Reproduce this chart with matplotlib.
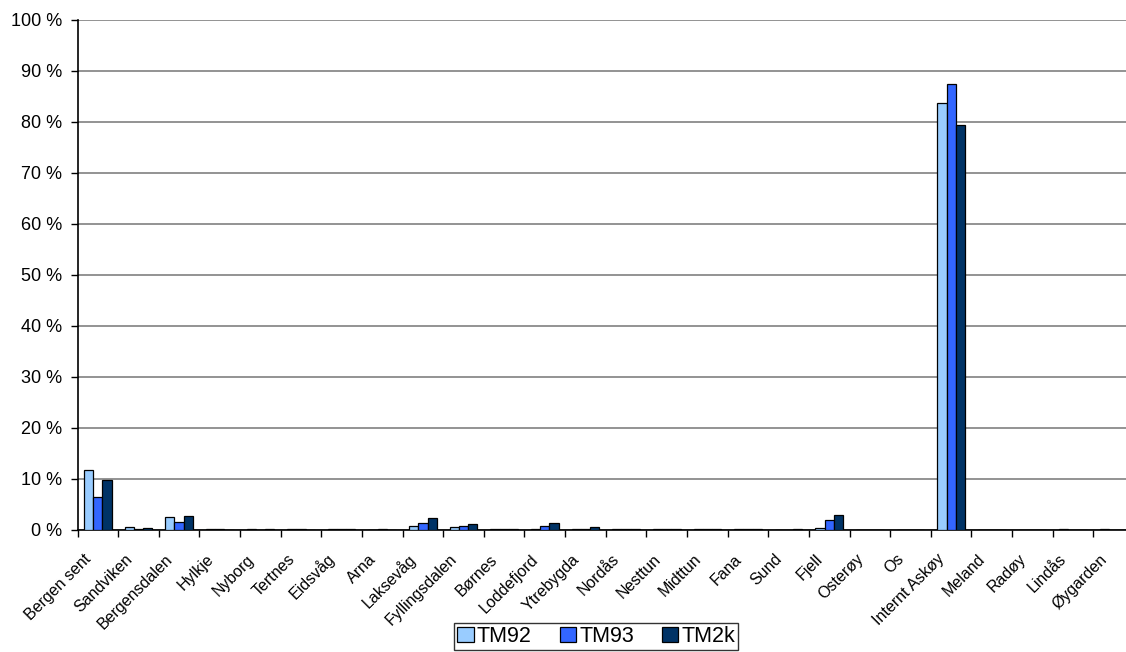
import numpy as np
import matplotlib.pyplot as plt
from matplotlib.ticker import FuncFormatter
from matplotlib.transforms import ScaledTranslation

plt.rcParams['font.family'] = ['Liberation Sans', 'DejaVu Sans']

# Andel turer per sone, i prosent
categories = ["Bergen sent", "Sandviken", "Bergensdalen", "Hylkje", "Nyborg", "Tertnes",
              "Eidsvåg", "Arna", "Laksevåg", "Fyllingsdalen", "Børnes", "Loddefjord",
              "Ytrebygda", "Nordås", "Nesttun", "Midttun", "Fana", "Sund", "Fjell",
              "Osterøy", "Os", "Internt Askøy", "Meland", "Radøy", "Lindås", "Øygarden"]
tm92 = [11.6, 0.5, 2.4, 0.05, 0.05, 0.05, 0.05, 0.0, 0.6, 0.5, 0.05, 0.1, 0.15,
        0.05, 0.05, 0.1, 0.05, 0.0, 0.2, 0.0, 0.0, 83.7, 0.0, 0.0, 0.05, 0.05]
tm93 = [6.3, 0.1, 1.4, 0.05, 0.0, 0.05, 0.05, 0.05, 1.3, 0.6, 0.05, 0.7, 0.15,
        0.1, 0.05, 0.05, 0.05, 0.0, 1.9, 0.0, 0.0, 87.5, 0.0, 0.0, 0.0, 0.0]
tm2k = [9.7, 0.2, 2.6, 0.0, 0.05, 0.0, 0.05, 0.0, 2.2, 1.1, 0.1, 1.3, 0.5,
        0.1, 0.1, 0.05, 0.05, 0.05, 2.8, 0.0, 0.0, 79.4, 0.0, 0.0, 0.0, 0.0]
series = [("TM92", tm92, "#99CCFF"), ("TM93", tm93, "#3366FF"), ("TM2k", tm2k, "#003366")]
yticks = list(range(0, 101, 10))

fig = plt.figure(figsize=(11.26, 6.52), dpi=100)
ax = fig.add_axes([77.5 / 1126, 1 - 529.5 / 652, (1134 - 77.5) / 1126, (529.5 - 20) / 652])

x = np.arange(len(categories))
width = 0.227
for i, (name, vals, color) in enumerate(series):
    ax.bar(x + (i - 1) * width, vals, width, color=color, edgecolor="black",
           linewidth=0.9, label=name, zorder=3)

ax.set_xlim(-0.5, len(categories) - 0.5)
ax.set_ylim(0, 100)
ax.set_yticks(yticks)
ax.yaxis.set_major_formatter(FuncFormatter(lambda v, _: f"{v:.0f} %"))
ax.yaxis.grid(True, color="#808080", linewidth=1.2, zorder=0)
ax.tick_params(axis="y", labelsize=13, length=5, width=1, pad=6)

# kategoriene har tick mellom seg, etikettene står midt under
ax.set_xticks(np.arange(len(categories) + 1) - 0.5)
ax.set_xticklabels([])
ax.set_xticks(x, minor=True)
ax.set_xticklabels(categories, minor=True, rotation=45, ha="right", va="baseline",
                   rotation_mode="anchor", fontsize=11.5)
ax.tick_params(axis="x", which="major", length=5, width=1)
ax.tick_params(axis="x", which="minor", length=0, pad=22)
# flytt etikettene litt mot venstre
shift = ScaledTranslation(-4 / 72, 0, fig.dpi_scale_trans)
for lbl in ax.get_xticklabels(minor=True):
    lbl.set_transform(lbl.get_transform() + shift)

for side in ("top", "right"):
    ax.spines[side].set_visible(False)
for side in ("left", "bottom"):
    ax.spines[side].set_linewidth(1.2)

leg = fig.legend(loc="lower center", bbox_to_anchor=(0.5295, -0.004), ncol=3,
                 fontsize=15.5, frameon=True, fancybox=False, edgecolor="black",
                 handlelength=0.75, handleheight=0.75, handletextpad=0.15,
                 columnspacing=1.3, borderpad=0.15, borderaxespad=0.2)
leg.get_frame().set_linewidth(1.0)

fig.savefig("out.png", dpi=100)
